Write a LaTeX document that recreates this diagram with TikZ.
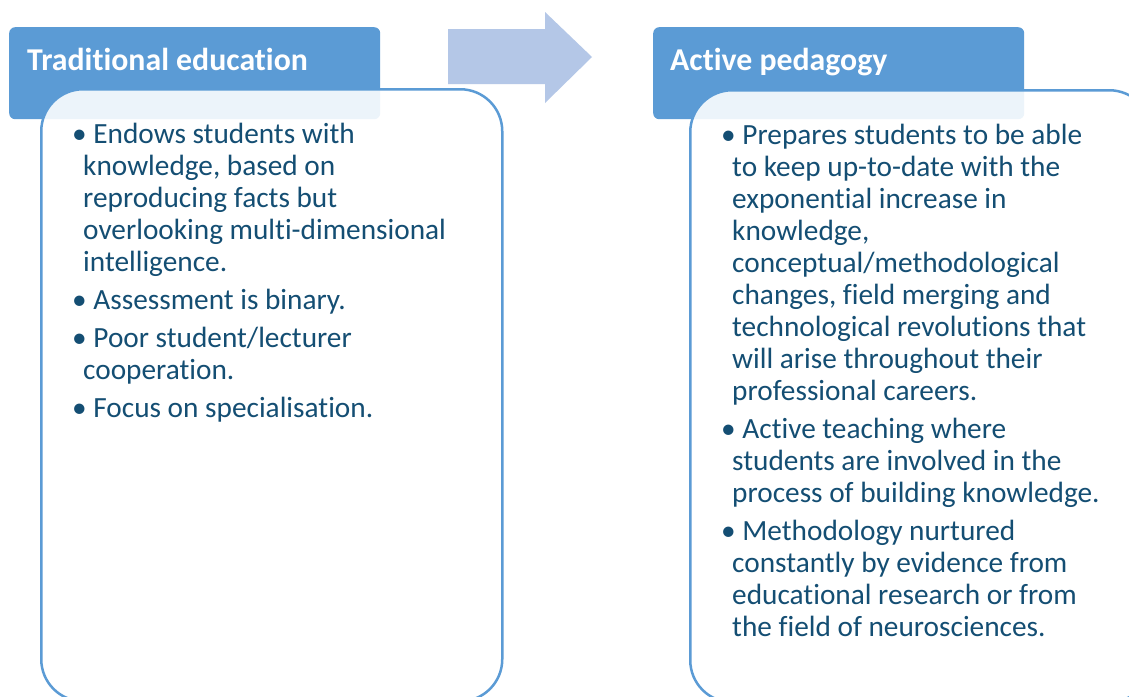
\documentclass[tikz,border=0pt]{standalone}
\usepackage{fontspec}
\setmainfont{Carlito}[Ligatures=NoCommon]
\definecolor{hdrblue}{RGB}{91,155,213}
\definecolor{arrowblue}{RGB}{180,199,231}
\definecolor{txtblue}{RGB}{20,78,115}
\newcommand{\ind}{\hspace*{11pt}}
\begin{document}
\begin{tikzpicture}[x=1pt,y=-1pt,
  hdr/.style={draw=none, fill=hdrblue, rounded corners=6pt, minimum width=371pt, minimum height=92pt, anchor=north west, inner sep=0pt},
  hdrtext/.style={anchor=base west, inner sep=0pt, text=white, font=\fontsize{31.8}{36}\selectfont\bfseries},
  cbox/.style={draw=hdrblue, line width=2.5pt, fill=white, fill opacity=0.89, rounded corners=42pt, minimum width=461pt, minimum height=612pt, anchor=north west, inner sep=0pt},
  bodytext/.style={anchor=base west, inner sep=0pt, align=left, text=txtblue, font=\fontsize{29.3}{32}\selectfont}
]
\useasboundingbox (0,0) rectangle (1129,696);
\clip (0,0) rectangle (1129,696);
\fill[white] (0,0) rectangle (1129,696);
% arrow
\fill[arrowblue] (448,29) -- (545,29) -- (545,12) -- (592,57) -- (545,103) -- (545,84) -- (448,84) -- cycle;
% headers
\node[hdr] (hdrL) at (9,27) {};
\node[hdr] (hdrR) at (653,27) {};
\node[hdrtext] (titleL) at (27,70) {Traditional education};
\node[hdrtext] (titleR) at (670,70) {Active pedagogy};
% content boxes
\node[cbox] (boxL) at (40,88) {};
\node[cbox] (boxR) at (689,89) {};
% texts (anchored at the baseline of the last line)
\node[bodytext] (textL) at (72,417) {•\ Endows students with\\
\ind knowledge, based on\\
\ind reproducing facts but\\
\ind overlooking multi-dimensional\\
\ind intelligence.\\[6pt]
•\ Assessment is binary.\\[6pt]
•\ Poor student/lecturer\\
\ind cooperation.\\[6pt]
•\ Focus on specialisation.};
\node[bodytext] (textR) at (721,636) {•\ Prepares students to be able\\
\ind to keep up-to-date with the\\
\ind exponential increase in\\
\ind knowledge,\\
\ind conceptual/methodological\\
\ind changes, field merging and\\
\ind technological revolutions that\\
\ind will arise throughout their\\
\ind professional careers.\\[6pt]
•\ Active teaching where\\
\ind students are involved in the\\
\ind process of building knowledge.\\[6pt]
•\ Methodology nurtured\\
\ind constantly by evidence from\\
\ind educational research or from\\
\ind the field of neurosciences.};
\end{tikzpicture}
\end{document}
